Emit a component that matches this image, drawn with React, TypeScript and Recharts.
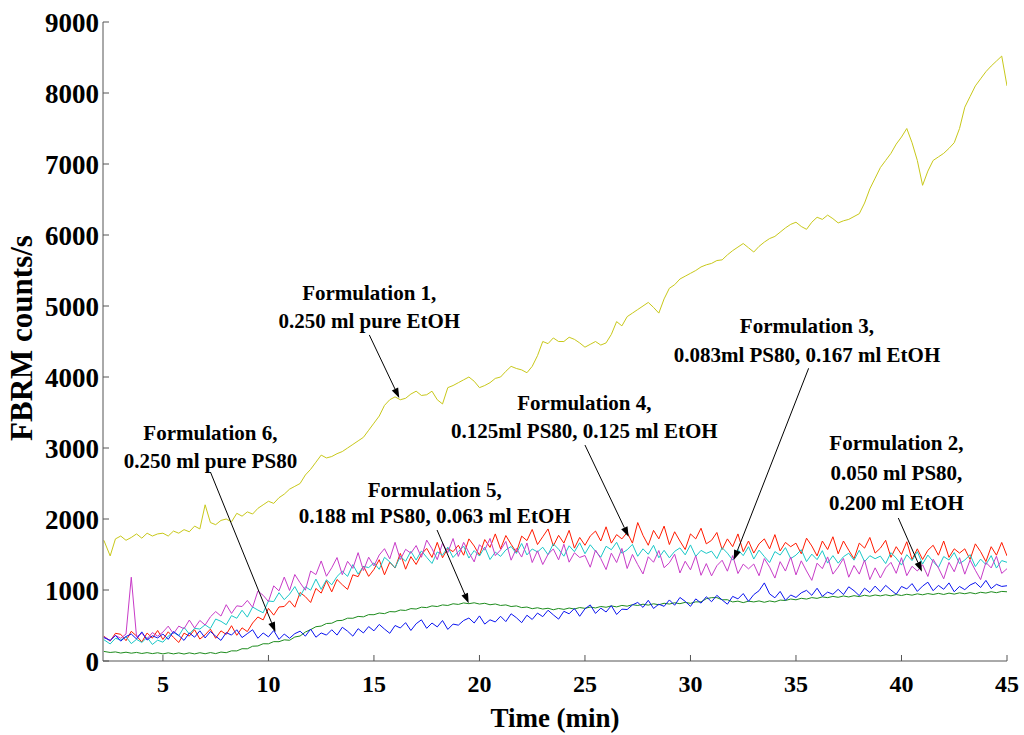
import { LineChart, Line, XAxis, YAxis, ReferenceLine, ReferenceDot } from "recharts";

// time grid (min), one row = 2 minutes
const minutes = [
  2.2, 2.5, 2.75,
  3, 3.25, 3.5, 3.75, 4, 4.25, 4.5, 4.75,
  5, 5.25, 5.5, 5.75, 6, 6.25, 6.5, 6.75,
  7, 7.25, 7.5, 7.75, 8, 8.25, 8.5, 8.75,
  9, 9.25, 9.5, 9.75, 10, 10.25, 10.5, 10.75,
  11, 11.25, 11.5, 11.75, 12, 12.25, 12.5, 12.75,
  13, 13.25, 13.5, 13.75, 14, 14.25, 14.5, 14.75,
  15, 15.25, 15.5, 15.75, 16, 16.25, 16.5, 16.75,
  17, 17.25, 17.5, 17.75, 18, 18.25, 18.5, 18.75,
  19, 19.25, 19.5, 19.75, 20, 20.25, 20.5, 20.75,
  21, 21.25, 21.5, 21.75, 22, 22.25, 22.5, 22.75,
  23, 23.25, 23.5, 23.75, 24, 24.25, 24.5, 24.75,
  25, 25.25, 25.5, 25.75, 26, 26.25, 26.5, 26.75,
  27, 27.25, 27.5, 27.75, 28, 28.25, 28.5, 28.75,
  29, 29.25, 29.5, 29.75, 30, 30.25, 30.5, 30.75,
  31, 31.25, 31.5, 31.75, 32, 32.25, 32.5, 32.75,
  33, 33.25, 33.5, 33.75, 34, 34.25, 34.5, 34.75,
  35, 35.25, 35.5, 35.75, 36, 36.25, 36.5, 36.75,
  37, 37.25, 37.5, 37.75, 38, 38.25, 38.5, 38.75,
  39, 39.25, 39.5, 39.75, 40, 40.25, 40.5, 40.75,
  41, 41.25, 41.5, 41.75, 42, 42.25, 42.5, 42.75,
  43, 43.25, 43.5, 43.75, 44, 44.25, 44.5, 44.75,
  45,
];

// FBRM counts/s per formulation
const formulation1 = [
  1700, 1480, 1720,
  1760, 1700, 1740, 1790, 1730, 1800, 1760, 1790,
  1800, 1760, 1830, 1800, 1850, 1820, 1900, 1860,
  2200, 1950, 1920, 1980, 2000, 1960, 2080, 2040,
  2100, 2070, 2150, 2200, 2250, 2220, 2300, 2350,
  2420, 2460, 2500, 2620, 2700, 2800, 2900, 2860,
  2880, 2920, 2950, 3000, 3050, 3100, 3150, 3250,
  3350, 3450, 3600, 3680, 3720, 3680, 3700, 3760,
  3800, 3740, 3750, 3800, 3680, 3620, 3850, 3880,
  3920, 3960, 4000, 3940, 3850, 3880, 3920, 3980,
  4000, 4080, 4150, 4120, 4100, 4060, 4150, 4300,
  4500, 4470, 4550, 4500, 4500, 4560, 4530, 4480,
  4420, 4460, 4500, 4450, 4480, 4600, 4780, 4720,
  4850, 4900, 4950, 5000, 5050, 4980, 4900, 5100,
  5250, 5300, 5380, 5420, 5460, 5500, 5550, 5580,
  5600, 5640, 5650, 5720, 5780, 5830, 5880, 5820,
  5760, 5840, 5900, 5950, 5980, 6040, 6100, 6150,
  6180, 6120, 6080, 6180, 6250, 6220, 6280, 6230,
  6170, 6200, 6220, 6260, 6300, 6450, 6650, 6800,
  6950, 7050, 7150, 7280, 7380, 7500, 7300, 7050,
  6700, 6900, 7050, 7100, 7150, 7220, 7300, 7500,
  7800, 7950, 8100, 8200, 8300, 8380, 8450, 8520,
  8100,
];
const formulation2 = [
  330, 290, 360,
  280, 345, 380, 310, 410, 295, 355, 325,
  380, 305, 415, 360, 290, 395, 335, 425,
  325, 415, 350, 290, 400, 365, 440, 330,
  385, 440, 320, 395, 340, 430, 305, 380,
  320, 385, 420, 350, 450, 335, 395, 365,
  440, 365, 475, 420, 350, 455, 395, 485,
  425, 515, 450, 390, 500, 465, 540, 430,
  525, 580, 460, 535, 480, 570, 445, 520,
  505, 570, 605, 535, 635, 520, 580, 550,
  630, 555, 665, 610, 540, 645, 585, 675,
  625, 715, 650, 590, 700, 665, 740, 630,
  735, 790, 670, 745, 690, 780, 655, 730,
  725, 790, 825, 755, 855, 740, 800, 770,
  860, 785, 895, 840, 770, 875, 815, 905,
  835, 925, 860, 800, 910, 875, 950, 840,
  935, 990, 1100, 945, 890, 980, 855, 930,
  895, 960, 995, 925, 1025, 910, 970, 940,
  1010, 935, 1045, 990, 920, 1025, 965, 1055,
  975, 1065, 1000, 940, 1050, 1015, 1090, 980,
  1055, 1110, 990, 1065, 1010, 1100, 975, 1050,
  1005, 1070, 1105, 1035, 1135, 1020, 1080, 1050,
  1060,
];
const formulation3 = [
  300, 240, 320,
  297, 341, 245, 305, 261, 333, 233, 293,
  265, 350, 405, 355, 475, 380, 460, 450,
  510, 458, 591, 559, 511, 639, 602, 715,
  618, 760, 717, 679, 845, 837, 962, 864,
  941, 1048, 910, 1045, 998, 1154, 1009, 1144,
  1073, 1190, 1264, 1192, 1358, 1223, 1332, 1316,
  1382, 1291, 1460, 1397, 1313, 1474, 1405, 1545,
  1421, 1551, 1460, 1374, 1536, 1491, 1604, 1458,
  1541, 1618, 1450, 1555, 1478, 1604, 1429, 1534,
  1473, 1564, 1613, 1515, 1655, 1494, 1578, 1536,
  1602, 1497, 1651, 1574, 1476, 1623, 1539, 1665,
  1511, 1637, 1546, 1462, 1616, 1567, 1672, 1518,
  1566, 1643, 1475, 1580, 1503, 1629, 1454, 1559,
  1453, 1544, 1593, 1495, 1635, 1474, 1558, 1516,
  1547, 1442, 1596, 1519, 1421, 1568, 1484, 1610,
  1436, 1562, 1471, 1387, 1541, 1492, 1597, 1443,
  1491, 1568, 1400, 1505, 1428, 1554, 1379, 1484,
  1378, 1469, 1518, 1420, 1560, 1399, 1483, 1441,
  1477, 1372, 1526, 1449, 1351, 1498, 1414, 1540,
  1366, 1492, 1401, 1317, 1471, 1422, 1527, 1373,
  1421, 1498, 1330, 1435, 1358, 1484, 1309, 1414,
  1390,
];
const formulation4 = [
  350, 280, 390,
  376, 286, 418, 352, 268, 394, 322, 430,
  303, 411, 333, 261, 393, 351, 441, 309,
  368, 449, 320, 425, 374, 497, 362, 467,
  414, 535, 620, 579, 741, 646, 761, 768,
  848, 758, 964, 906, 824, 1022, 956, 1130,
  974, 1148, 1074, 1008, 1214, 1188, 1338, 1192,
  1290, 1427, 1214, 1391, 1309, 1516, 1293, 1470,
  1360, 1503, 1586, 1459, 1671, 1454, 1587, 1540,
  1630, 1490, 1720, 1620, 1490, 1710, 1600, 1790,
  1580, 1767, 1644, 1531, 1759, 1696, 1853, 1640,
  1750, 1860, 1620, 1770, 1660, 1840, 1590, 1740,
  1630, 1760, 1830, 1690, 1890, 1660, 1780, 1720,
  1810, 1660, 1950, 1770, 1630, 1840, 1720, 1900,
  1640, 1820, 1690, 1570, 1790, 1720, 1870, 1650,
  1700, 1810, 1570, 1720, 1610, 1790, 1540, 1690,
  1520, 1650, 1720, 1580, 1780, 1550, 1670, 1610,
  1660, 1510, 1730, 1620, 1480, 1690, 1570, 1750,
  1510, 1690, 1560, 1440, 1660, 1590, 1740, 1520,
  1590, 1700, 1460, 1610, 1500, 1680, 1430, 1580,
  1430, 1560, 1630, 1490, 1690, 1460, 1580, 1520,
  1580, 1430, 1650, 1540, 1400, 1610, 1490, 1670,
  1480,
];
const formulation5 = [
  135, 120, 128,
  112, 124, 110, 121, 106, 118, 104, 116,
  100, 115, 100, 114, 98, 115, 100, 117,
  102, 119, 104, 126, 117, 143, 142, 173,
  172, 208, 212, 243, 242, 273, 272, 298,
  292, 338, 352, 408, 442, 483, 492, 528,
  532, 568, 572, 603, 602, 628, 622, 653,
  652, 676, 667, 696, 692, 718, 712, 738,
  732, 758, 752, 776, 767, 790, 782, 806,
  797, 818, 807, 820, 802, 813, 792, 803,
  782, 790, 767, 776, 752, 760, 737, 750,
  732, 743, 722, 740, 727, 746, 732, 753,
  742, 760, 747, 768, 757, 776, 762, 783,
  772, 793, 782, 800, 787, 806, 792, 813,
  802, 820, 807, 826, 812, 833, 832, 878,
  892, 893, 862, 863, 832, 843, 822, 843,
  832, 846, 827, 846, 832, 858, 852, 873,
  862, 883, 872, 893, 882, 903, 892, 910,
  897, 916, 902, 920, 907, 926, 912, 930,
  917, 933, 917, 936, 922, 940, 927, 946,
  932, 950, 937, 953, 937, 956, 942, 960,
  947, 963, 947, 968, 957, 976, 962, 980,
  975,
];
const formulation6 = [
  340, 290, 360,
  320, 380, 1180, 340, 390, 310, 400, 350,
  407, 491, 384, 491, 454, 577, 464, 571,
  507, 622, 696, 633, 793, 670, 777, 767,
  853, 757, 985, 925, 837, 1058, 988, 1182,
  993, 1218, 1102, 997, 1267, 1217, 1409, 1194,
  1313, 1457, 1216, 1404, 1305, 1526, 1274, 1462,
  1339, 1493, 1582, 1439, 1671, 1429, 1573, 1518,
  1626, 1461, 1703, 1582, 1428, 1659, 1527, 1725,
  1473, 1671, 1528, 1396, 1638, 1561, 1726, 1484,
  1563, 1684, 1420, 1585, 1464, 1662, 1387, 1552,
  1359, 1502, 1579, 1425, 1645, 1392, 1524, 1458,
  1486, 1321, 1563, 1442, 1288, 1519, 1387, 1585,
  1303, 1501, 1358, 1226, 1468, 1391, 1556, 1314,
  1383, 1504, 1240, 1405, 1284, 1482, 1207, 1372,
  1199, 1342, 1419, 1265, 1485, 1232, 1364, 1298,
  1366, 1201, 1443, 1322, 1168, 1399, 1267, 1465,
  1213, 1411, 1268, 1136, 1378, 1301, 1466, 1224,
  1323, 1444, 1180, 1345, 1224, 1422, 1147, 1312,
  1169, 1312, 1389, 1235, 1455, 1202, 1334, 1268,
  1356, 1191, 1433, 1312, 1158, 1389, 1257, 1455,
  1223, 1421, 1278, 1146, 1388, 1311, 1476, 1234,
  1300,
];

const xTicks = [5, 10, 15, 20, 25, 30, 35, 40, 45];
const yTicks = [0, 1000, 2000, 3000, 4000, 5000, 6000, 7000, 8000, 9000];

// callouts: text lines (t, baseline value) and arrow (from -> to)
const notes = [
  { text: ["Formulation 1,", "0.250 ml pure EtOH"], t: 14.78, v: [5085, 4690], from: [14.78, 4592], to: [16.2, 3704] },
  { text: ["Formulation 6,", "0.250 ml pure PS80"], t: 7.25, v: [3113, 2718], from: [7.25, 2662], to: [10.33, 408] },
  { text: ["Formulation 5,", "0.188 ml PS80, 0.063 ml EtOH"], t: 17.88, v: [2310, 1944], from: [17.99, 1845], to: [19.49, 813] },
  { text: ["Formulation 4,", "0.125ml PS80, 0.125 ml EtOH"], t: 24.97, v: [3535, 3141], from: [25.0, 3042], to: [27.07, 1751] },
  { text: ["Formulation 3,", "0.083ml PS80, 0.167 ml EtOH"], t: 35.52, v: [4620, 4211], from: [35.6, 4123], to: [32.05, 1423] },
  { text: ["Formulation 2,", "0.050 ml PS80,", "0.200 ml EtOH"], t: 39.76, v: [2972, 2549, 2127], from: [39.85, 2014], to: [40.97, 1258] },
];

const data = minutes.map((t, i) => ({
  t,
  f1: formulation1[i],
  f2: formulation2[i],
  f3: formulation3[i],
  f4: formulation4[i],
  f5: formulation5[i],
  f6: formulation6[i],
}));

const serif = "'Liberation Serif', 'Times New Roman', serif";

function YTick({ x, y, payload }: any) {
  return (
    <text x={x} y={y + 10} textAnchor="end" fontFamily={serif} fontWeight="bold" fontSize={27} fill="#000">
      {payload.value}
    </text>
  );
}

function XTick({ x, y, payload }: any) {
  return (
    <text x={x} y={y + 31} textAnchor="middle" fontFamily={serif} fontWeight="bold" fontSize={24} fill="#000">
      {payload.value}
    </text>
  );
}

function Arrow({ x1, y1, x2, y2 }: any) {
  const a = Math.atan2(y2 - y1, x2 - x1);
  const len = 10;
  const w = 3.5;
  const bx = x2 - len * Math.cos(a);
  const by = y2 - len * Math.sin(a);
  const px = -Math.sin(a) * w;
  const py = Math.cos(a) * w;
  return (
    <g>
      <line x1={x1} y1={y1} x2={bx} y2={by} stroke="#000" strokeWidth={1} />
      <polygon points={`${x2},${y2} ${bx + px},${by + py} ${bx - px},${by - py}`} fill="#000" />
    </g>
  );
}

export default function App() {
  return (
    <div style={{ position: "absolute", left: 0, top: 0, background: "#fff" }}>
      <LineChart width={1024} height={735} data={data} margin={{ top: 22, right: 17, bottom: 0, left: 0 }}>
        <XAxis
          dataKey="t"
          type="number"
          domain={[2.16, 45]}
          ticks={xTicks}
          allowDataOverflow
          height={74}
          stroke="#555"
          tickSize={-6}
          tickMargin={6}
          tick={<XTick />}
          label={({ viewBox }: any) => (
            <text
              x={viewBox.x + viewBox.width / 2}
              y={viewBox.y + 66}
              textAnchor="middle"
              fontFamily={serif}
              fontWeight="bold"
              fontSize={27}
              fill="#000"
            >
              Time (min)
            </text>
          )}
        />
        <YAxis
          type="number"
          domain={[0, 9000]}
          ticks={yTicks}
          width={103}
          stroke="#555"
          tickSize={-6}
          tickMargin={10}
          tick={<YTick />}
          label={() => (
            <text
              x={32}
              y={338}
              transform="rotate(-90 32 338)"
              textAnchor="middle"
              fontFamily={serif}
              fontWeight="bold"
              fontSize={31}
              fill="#000"
            >
              FBRM counts/s
            </text>
          )}
        />
        <Line dataKey="f1" stroke="#c8c81a" strokeWidth={1} dot={false} isAnimationActive={false} />
        <Line dataKey="f4" stroke="#ff1a00" strokeWidth={1} dot={false} isAnimationActive={false} />
        <Line dataKey="f3" stroke="#1ac8c8" strokeWidth={1} dot={false} isAnimationActive={false} />
        <Line dataKey="f6" stroke="#c83cc8" strokeWidth={1} dot={false} isAnimationActive={false} />
        <Line dataKey="f5" stroke="#1e8c1e" strokeWidth={1} dot={false} isAnimationActive={false} />
        <Line dataKey="f2" stroke="#0a14f0" strokeWidth={1} dot={false} isAnimationActive={false} />
        {notes.map((n) => (
          <ReferenceLine
            key={`arrow-${n.text[0]}`}
            segment={[
              { x: n.from[0], y: n.from[1] },
              { x: n.to[0], y: n.to[1] },
            ]}
            shape={(p: any) => <Arrow {...p} />}
          />
        ))}
        {notes.flatMap((n) =>
          n.text.map((line, i) => (
            <ReferenceDot
              key={`${n.text[0]}-${i}`}
              x={n.t}
              y={n.v[i]}
              r={0}
              shape={(p: any) => (
                <text
                  x={p.cx}
                  y={p.cy}
                  textAnchor="middle"
                  fontFamily={serif}
                  fontWeight="bold"
                  fontSize={21}
                  fill="#000"
                >
                  {line}
                </text>
              )}
            />
          ))
        )}
      </LineChart>
    </div>
  );
}
